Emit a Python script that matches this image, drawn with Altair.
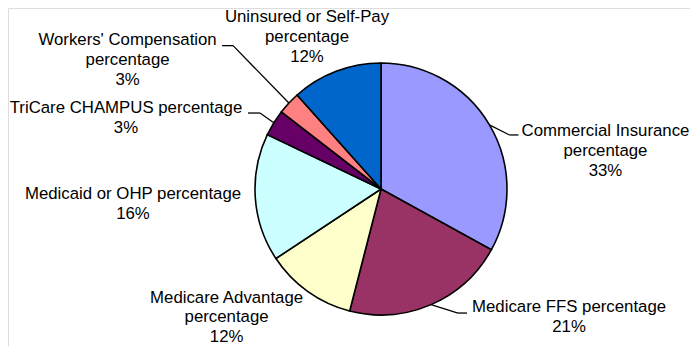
import altair as alt
import pandas as pd

# ---- data ----
CATEGORIES = [
    "Commercial Insurance percentage",
    "Medicare FFS percentage",
    "Medicare Advantage percentage",
    "Medicaid or OHP percentage",
    "TriCare CHAMPUS percentage",
    "Workers' Compensation percentage",
    "Uninsured or Self-Pay percentage",
]
LABEL_LINES = [
    "Commercial Insurance\npercentage",
    "Medicare FFS percentage",
    "Medicare Advantage\npercentage",
    "Medicaid or OHP percentage",
    "TriCare CHAMPUS percentage",
    "Workers' Compensation\npercentage",
    "Uninsured or Self-Pay\npercentage",
]
SHARES = [33.0, 21.0, 11.7, 16.4, 3.4, 2.9, 11.6]
PCT_TEXT = ["33%", "21%", "12%", "16%", "3%", "3%", "12%"]
COLORS = ["#9999FF", "#993366", "#FFFFCC", "#CCFFFF", "#660066", "#FF8080", "#0066CC"]

# ---- layout (label nudges relative to each slice's mid-angle point on the rim) ----
W, H = 682, 338
CX, CY, R = 373, 181, 126
LABEL_DX = [116.0, 138.0, -81.3, -122.3, -147.8, -161.3, -29.1]
LABEL_DY = [26.1, 12.4, 25.5, 6.2, -4.8, -43.1, -34.3]
HAS_LEADER = [1, 1, 0, 0, 1, 1, 0]
ELBOW_DX = [20.0, 27.0, 0, 0, -13.8, -55.8, 0]
ELBOW_DY = [10.1, 8.4, 0, 0, -9.8, -57.4, 0]
END_DX = [29.0, 36.0, 0, 0, -25.8, -66.8, 0]

FONT = "Liberation Sans"
FONT_SIZE = 16.8
LINE_H = 19.6

txt = [a + "\n" + b for a, b in zip(LABEL_LINES, PCT_TEXT)]
df = pd.DataFrame({
    "idx": list(range(len(CATEGORIES))),
    "category": CATEGORIES,
    "share": SHARES,
    "txt": txt,
    "nl": [t.count("\n") + 1 for t in txt],
    "ldx": LABEL_DX,
    "ldy": LABEL_DY,
    "leader": HAS_LEADER,
    "edx": ELBOW_DX,
    "edy": ELBOW_DY,
    "fdx": END_DX,
})

base = alt.Chart(df)

arcs = base.mark_arc(outerRadius=R, stroke="black", strokeWidth=1.6).encode(
    theta=alt.Theta("share:Q", stack=True),
    order=alt.Order("idx:Q", sort="ascending"),
    color=alt.Color("category:N", scale=alt.Scale(domain=CATEGORIES, range=COLORS), legend=None),
    x=alt.value(CX),
    y=alt.value(CY),
)

pos = base.transform_window(
    cum="sum(share)", sort=[alt.SortField("idx", order="ascending")], frame=[None, 0]
).transform_joinaggregate(
    total="sum(share)"
).transform_calculate(
    mid="2*PI*(datum.cum - datum.share/2)/datum.total"
).transform_calculate(
    ax=f"{CX} + {R}*sin(datum.mid)",
    ay=f"{CY} - {R}*cos(datum.mid)",
).transform_calculate(
    lx="datum.ax + datum.ldx",
    ly=f"datum.ay + datum.ldy - (datum.nl - 1) * {LINE_H} / 2",
    ex="datum.ax + datum.edx",
    ey="datum.ay + datum.edy",
    fx="datum.ax + datum.fdx",
)

labels = pos.mark_text(
    align="center", baseline="middle", lineBreak="\n", font=FONT,
    fontSize=FONT_SIZE, lineHeight=LINE_H, color="black",
).encode(
    x=alt.X("lx:Q", scale=None, axis=None),
    y=alt.Y("ly:Q", scale=None, axis=None),
    text="txt:N",
)

leaders = pos.transform_filter("datum.leader == 1")
seg1 = leaders.mark_rule(color="black", strokeWidth=1.3).encode(
    x=alt.X("ax:Q", scale=None, axis=None),
    y=alt.Y("ay:Q", scale=None, axis=None),
    x2="ex:Q",
    y2="ey:Q",
)
seg2 = leaders.mark_rule(color="black", strokeWidth=1.3).encode(
    x=alt.X("ex:Q", scale=None, axis=None),
    y=alt.Y("ey:Q", scale=None, axis=None),
    x2="fx:Q",
    y2="ey:Q",
)

chart = alt.layer(arcs, seg1, seg2, labels).properties(
    width=W, height=H,
    autosize=alt.AutoSizeParams(type="none"),
    padding=0,
).configure_view(stroke=None).configure(background="white")

chart.save("out.html", embed_options={"renderer": "svg", "actions": False})
